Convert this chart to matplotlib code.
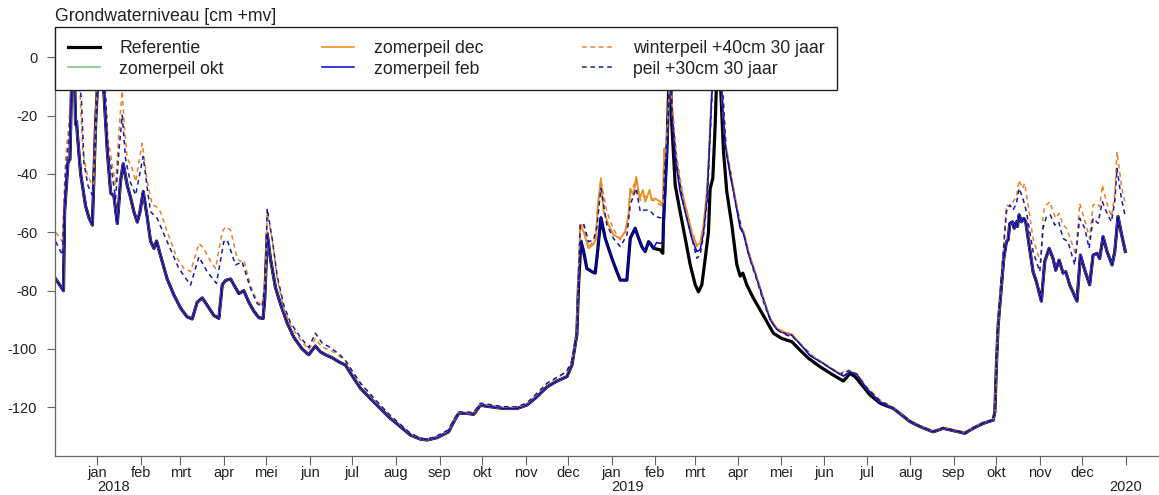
import matplotlib
matplotlib.use("Agg")
import matplotlib.pyplot as plt
import matplotlib.transforms as mtransforms
import pandas as pd

plt.rcParams["font.family"] = ["Liberation Sans", "DejaVu Sans"]
plt.rcParams["axes.unicode_minus"] = False

# days counted from 1 jan 2018, values in cm +mv
start = pd.Timestamp("2018-01-01")

ref_day = [-29.5, -24, -23.2, -20.8, -19.4, -18.4, -16.5, -15.4, -14.7, -14.2, -11.8, -8.3, -5.9, -3.5, -1.2, 0, 1.5, 3,
           4.7, 7.1, 9.5, 11.8, 14.2, 16.5, 18.4, 21.3, 23.6, 26, 28.4, 30.3, 32.6, 35.5, 37.8, 40.2, 42.1, 44.9, 49.6,
           54.4, 59.1, 63.8, 67.4, 70.9, 74.5, 78, 82.7, 86.3, 88.7, 91, 94.6, 98.1, 100.5, 104, 107.6, 111.1, 114.7,
           117.7, 118.9, 120.6, 122.9, 126.5, 130, 134.7, 139.5, 145.4, 150.1, 154.8, 158.4, 162, 166.7, 172.1, 176.1,
           182, 186.8, 193.9, 201, 208, 215.1, 222.2, 229.3, 234.1, 241.2, 249.4, 253, 256.5, 262.4, 267.2, 271.9, 279,
           288.4, 297.9, 305, 312.1, 319.2, 326.3, 333.3, 336.9, 340.4, 341.6, 343.3, 345.2, 347.5, 351.1, 353.4, 354.6,
           357.5, 360.5, 365.3, 368.8, 371.2, 375.9, 378.3, 381.8, 384.2, 386.6, 388.9, 391.3, 392.5, 394.8, 399.6,
           401.4, 401.9, 404.3, 405.5, 406.6, 407.8, 410.2, 413.7, 417.3, 420.8, 424.4, 426.7, 429.1, 431.5, 433.8, 435,
           436.9, 438.6, 439.3, 440.5, 442.6, 444.5, 446.8, 450.4, 453.9, 456.3, 458.2, 461, 465.7, 470.5, 475.2, 479.9,
           485.8, 493, 498.8, 504.8, 513, 522.5, 529.6, 534.3, 537.9, 543.8, 548.5, 555.6, 565, 570.9, 576.8, 583.9,
           593.3, 600.4, 607.5, 615.8, 621.7, 628.8, 635.9, 637.1, 638.2, 639.4, 640.6, 641.8, 643.4, 645.3, 646.5,
           647.7, 649.6, 650.8, 652.4, 653.1, 654.3, 656, 657.6, 659, 660.7, 664.2, 666.6, 670.1, 672.5, 675.6, 678.4,
           680.3, 682.7, 685.5, 687.4, 690.2, 695.4, 697.8, 700.9, 704.4, 706.8, 709.6, 711.5, 713.9, 716.7, 720.3,
           722.2, 724.5, 726.9, 729.7]
ref_cm = [-76, -80, -53, -36, -35, -12, 2, -23, -22, -26, -40, -51, -55, -57.5, -23, -11, 4, 2,
          -12, -32, -46.5, -47.5, -57, -42.5, -36.5, -44, -48, -53, -56.5, -53, -46, -55, -63, -65.5, -63, -68, -76,
          -81.5, -86, -89, -89.7, -84, -82.5, -85, -88.5, -89.5, -78, -76.5, -76, -79, -81, -80, -84, -87, -89.3,
          -89.5, -82.6, -60.4, -69, -79, -84.5, -91, -96, -100, -102, -99, -101, -102, -103, -104.6, -105.5,
          -110, -113.5, -117, -120.4, -123.8, -126.6, -129.5, -130.9, -131.2, -130.4, -128.4, -125, -122.1, -122.1,
          -122.4, -119.3, -119.8, -120.4, -120.4, -119.2, -116.4, -113, -111, -109.5, -105.5, -95, -78, -63, -66.6,
          -72.4, -73.5, -74, -69, -55, -62, -69, -73.5, -76.4, -76.4, -62, -58.6, -62, -65, -66.6, -63.2, -63.8,
          -65.5, -66, -67.2, -56.4, -32.4, -12, 3, -23, -43.8, -53, -62, -71, -78, -80.4, -78, -69, -60, -45, -41.5,
          -23, -12, 3, -12, -32.4, -46, -57.5, -71, -75, -74, -78, -82.6, -86.6, -90.6, -94.6, -96.4, -97.5, -100.4,
          -103.2, -106.1, -109, -111, -108.4, -109.5, -113, -115.8, -118.6, -120.4, -122.6, -124.9, -126.6, -128.4,
          -127.2, -128, -128.9, -127.2, -125.5, -124.4, -121.5, -105.5, -92, -85, -78, -69, -63.2, -62.6, -57, -56.4,
          -58.6, -56.4, -58, -54, -56.4, -55.2, -56.4, -62, -73.5, -77, -83.6, -70, -65.5, -69, -73, -69.5, -74,
          -73.5, -78, -83.6, -67.8, -73, -78, -67.8, -67.2, -69, -61.5, -66.6, -71.2, -66.6, -54.6, -60.4, -66.6]

# zomerpeil dec: only differs from the reference between these days
dec_day = [340.4, 341.6, 342.8, 345.2, 348.7, 352.2, 353.9, 355.3, 357.5, 359.4, 362.9, 366.5, 371.2, 374.7, 377.1,
           378.3, 380.6, 382.5, 384.9, 387.3, 388.9, 392, 393.6, 396, 399.6, 401.4, 402.4, 403.8, 405.5, 406.6, 407.8,
           410.2, 413.7, 418.5, 422, 425.6, 427.9, 430.3, 432.7, 433.8, 435, 436.2, 439, 443.3, 445.7, 449.2, 451.6,
           456.3, 458.7, 462.2, 466.9, 472.8, 477.6, 482.3, 487, 493, 498.8, 505.9, 515.4, 522.5, 529.6, 534.3, 539,
           546.1, 555.6, 565]
dec_cm = [-95, -75, -57.5, -59.8, -65.5, -64, -62.5, -50.6, -41.5, -52.9, -57.5, -60.9, -62.1, -59.8, -54,
          -45, -47.2, -41, -48.4, -45.5, -49.5, -45.5, -49, -48.4, -49.5, -50.6, -31.2, -34.6, -17.5, 3, -16.4,
          -32.4, -43.8, -52.9, -60.4, -64.4, -63.8, -57.5, -46, -37, -23, -12, 3, -12, -29, -39.2, -45,
          -57.5, -59.8, -66.6, -73.5, -82.6, -89.5, -92.9, -94.1, -95, -98.1, -102.1, -104.9, -107.2, -109.2, -107.8,
          -108.5, -113.5, -118.1, -120.4]

# zomerpeil okt cannot be told apart from zomerpeil dec in the picture
okt_day = dec_day
okt_cm = dec_cm

# zomerpeil feb: differs from the reference between these days
feb_day = [394.8, 397, 399.6, 401.4, 402.4, 404.3, 405.5, 406.6, 407.8, 410.2, 413.7, 418.5, 422, 425.6, 427.9,
           430.3, 432.7, 435, 436.2, 439, 443.3, 445.7, 449.2, 451.6, 456.3, 458.7, 462.2, 466.9, 472.8, 477.6, 482.3,
           487, 493, 498.8, 505.9, 515.4, 522.5, 529.6, 534.3, 539, 546.1, 555.6, 565]
feb_cm = [-65.5, -63.5, -63.8, -63.3, -56, -34.6, -17.5, 3, -17.5, -34.6, -46.1, -55.2, -62.1, -66.6, -66,
          -60, -48.4, -25.8, -12, 3, -12, -30, -40.4, -46, -58.6, -60.5, -67.5, -74, -83, -90, -93.3,
          -94.5, -95.3, -98.3, -102.3, -105, -107.3, -109.3, -107.9, -108.6, -113.6, -118.2, -120.4]

w40_day = [-29.5, -24.8, -22.5, -20.1, -18.9, -16.5, -12.3, -10.2, -7.1, -4.7, -2.8, -1.2, -0.5, 2, 5.9, 7.6, 9.5,
           13, 15.4, 17.7, 19.4, 21.3, 24.8, 27.2, 29.5, 31.9, 35.5, 39, 42.1, 44.9, 49.6, 56.7, 61.5, 66.2, 72.1,
           75.6, 79.2, 83.9, 88.7, 91, 94.6, 99.3, 101.7, 104, 108.7, 113.5, 117, 119.4, 120.6, 124.1, 127.7, 132.4,
           137.1, 144.2, 150.1, 154.8, 159.6, 165.5, 172.1, 176, 182, 187, 194, 201, 208, 215, 222, 229, 234, 241, 249,
           253, 256.5, 262, 267, 272, 279, 288, 298, 305, 312, 319, 326, 333, 337, 340.4, 342.8, 345.2, 348.7, 352.3,
           354.6, 357.5, 361.7, 366.4, 371.2, 375.9, 378.3, 382.5, 385.4, 387.7, 392, 396, 401.4, 402.6, 404.3, 405.5,
           406.6, 407.8, 411.4, 416.1, 420.8, 425.6, 427.9, 430.3, 433.1, 435, 436.4, 439, 444, 446.4, 449.2, 452.7,
           457.5, 459.1, 463.4, 468.1, 474, 478.7, 483.5, 488.2, 494.1, 501.2, 508.3, 517.8, 527.2, 533.1, 539, 546.1,
           555.6, 565, 576.8, 583.9, 593.3, 600.4, 607.5, 615.8, 621.7, 628.8, 635.9, 637.1, 638.2, 639.4, 640.6,
           641.8, 643.4, 645.3, 647.7, 650, 652.4, 654.3, 656.7, 658.3, 660.7, 664.2, 667.8, 669.7, 671.3, 672.5,
           676.1, 678.4, 680.3, 682.7, 685.5, 687.9, 691.4, 694.5, 697.3, 700.9, 704.4, 706.8, 709.6, 711.5, 713.4,
           716.2, 719.8, 722.2, 723.8, 726.9, 729.7]
w40_cm = [-60, -63.2, -34.6, -23, -11.5, 3, -12, -32.4, -40.4, -42.6, -43.8, -26.5, -12, 3, -12, -28, -33.5,
          -43.8, -25, -11.5, -25, -34.6, -38.1, -42.6, -36, -29.5, -42.6, -50.6, -51.2, -53, -59.8, -68.9, -72.4,
          -73.5, -63.8, -65.5, -68.9, -72.4, -59.8, -58.1, -59.2, -68.9, -70, -69.5, -78.1, -83.8, -84.9, -75, -53.5,
          -62.1, -75.8, -86.1, -91.8, -96.9, -100.3, -96.4, -99.5, -100.3, -102.6, -104, -108.5, -112, -115.8, -119.5,
          -123, -126, -129, -130.6, -131, -130, -128, -124.5, -121.8, -121.8, -122, -118.8, -119.3, -120, -120,
          -118.7, -115.5, -112, -110, -108, -104, -93, -57, -58, -65, -63, -58, -42.5, -53, -59, -62.6, -58.6, -46.6,
          -42, -49, -47.5, -48, -49.5, -51.2, -34.6, -26.6, -16, 3, -15, -34.6, -48.4, -57.5, -64.9, -64.4, -58.6,
          -46, -25.5, -12, 3, -12, -31.2, -38, -48.4, -58.6, -60.4, -68.9, -75.8, -85, -90.6, -93.5, -94.6, -95.8,
          -99.2, -102.6, -105.5, -108.4, -107.2, -108.4, -113, -117.5, -120, -124.5, -126.3, -128.1, -126.9, -127.7,
          -128.6, -126.9, -125.2, -124.1, -121.2, -105.5, -90, -82, -74, -64, -50.6, -51.2, -49.5, -47.8, -42.1, -45,
          -43.2, -50.6, -62.1, -67.8, -70.1, -54.6, -51.2, -49.5, -52.9, -55.2, -53.5, -57.5, -58.6, -63.2, -67.8,
          -50.1, -55.8, -62.1, -50.6, -50.1, -51.2, -43.8, -49.5, -54.6, -47.2, -32.4, -43.8, -50.6]

p30_day = [-29.5, -24.8, -22.5, -20.1, -18.4, -16.5, -11.3, -9.5, -6.6, -3.5, -1.2, 0, 2, 5.9, 7.6, 9.9, 13, 15.4,
           17.7, 20.1, 23.6, 27.2, 32.6, 35.5, 37.8, 42.5, 49.6, 57.9, 66.2, 72.1, 78, 84.6, 89.8, 92.2, 98.1, 102.8,
           108.7, 113.5, 117, 119.4, 120.6, 124.1, 127.7, 132.4, 137.1, 144.2, 150.1, 154.8, 159.6, 165.5, 172.1, 176,
           182, 187, 194, 201, 208, 215, 222, 229, 234, 241, 249, 253, 256.5, 262, 267, 272, 279, 288, 298, 305, 312,
           319, 326, 333, 337, 340.4, 342.8, 345.2, 348.7, 352.3, 354.6, 357.5, 361.7, 366.4, 371.2, 375.9, 378.3,
           382.5, 385.4, 387.7, 392, 396, 401.4, 402.6, 404.3, 405.5, 406.6, 407.8, 411.4, 416.1, 420.8, 425.6, 427.9,
           430.3, 433.1, 435, 436.4, 439, 444, 446.4, 449.2, 452.7, 457.5, 459.1, 463.4, 468.1, 474, 478.7, 483.5,
           488.2, 494.1, 501.2, 508.3, 517.8, 527.2, 533.1, 539, 546.1, 555.6, 565, 576.8, 583.9, 593.3, 600.4, 607.5,
           615.8, 621.7, 628.8, 635.9, 637.1, 638.2, 639.4, 640.6, 641.8, 643.4, 645.3, 647.7, 650, 652.4, 654.3, 657,
           659.5, 664.2, 669, 671.3, 673.7, 676.5, 679.6, 682.4, 685.5, 689, 693.8, 697.3, 700.9, 704, 706.8, 710.3,
           713.4, 716.2, 719.8, 722.2, 723.8, 726.9, 729.7]
p30_cm = [-63.2, -67.8, -40, -28, -11.5, 2, -14, -36, -44, -47.2, -28, -11.5, 2, -14, -32, -38, -48.4, -32,
          -19.8, -35, -43, -47.2, -34, -45, -52.9, -55.2, -63.2, -72.4, -78.1, -68.4, -73.5, -77.5, -63.2, -62.6,
          -71.2, -70.1, -79.2, -84.4, -85.5, -76, -51.8, -62.1, -75, -85, -91, -96, -99.5, -94.6, -98, -99.5, -102,
          -103.8, -108.3, -111.8, -115.6, -119.3, -122.8, -125.8, -128.8, -130.5, -131, -129.8, -127.8, -124.3,
          -121.6, -121.6, -121.8, -118.6, -119.1, -119.8, -119.8, -118.5, -115.2, -111.8, -109.8, -107.8, -104, -94,
          -57.5, -57, -63.2, -62.6, -58, -44.9, -57.5, -62.1, -64.9, -61, -50.6, -44.9, -52.9, -52.4, -52.4, -54.6,
          -55.2, -39, -29, -17.5, 3, -18.6, -37, -50.6, -59.8, -68.9, -67.8, -61, -48.4, -26.6, -12, 3, -12, -32.4,
          -39.2, -49.5, -59.2, -61, -69.5, -76.4, -85.5, -91, -93.8, -95, -96.1, -99.5, -103, -105.8, -108.7, -107.5,
          -108.7, -113.3, -117.8, -120.2, -124.6, -126.4, -128.2, -127, -127.8, -128.7, -127, -125.3, -124.2, -121.3,
          -105.5, -91, -83, -75, -65, -52.9, -50.6, -52.4, -50.1, -44.9, -48.4, -52.9, -66.6, -73.5, -58.6, -54.6,
          -54.1, -57.5, -56.4, -62.1, -63.2, -71.2, -55.2, -58.6, -65.5, -55.2, -56.9, -49.5, -52.9, -56.4, -49.5,
          -38.1, -48.4, -54.6]

labels = ["Referentie", "zomerpeil okt", "zomerpeil dec", "zomerpeil feb",
          "winterpeil +40cm 30 jaar", "peil +30cm 30 jaar"]
months = ["jan", "feb", "mrt", "apr", "mei", "jun", "jul", "aug", "sep", "okt", "nov", "dec"]
years = ["2018", "2019", "2020"]
yticks = [0, -20, -40, -60, -80, -100, -120]


def to_dates(days):
    return start + pd.to_timedelta(days, unit="D")


def splice(base_day, base_cm, seg_day, seg_cm):
    # the scenario follows the reference outside its own stretch
    pts = [(d, v) for d, v in zip(base_day, base_cm) if d < seg_day[0]]
    pts += list(zip(seg_day, seg_cm))
    pts += [(d, v) for d, v in zip(base_day, base_cm) if d > seg_day[-1]]
    return [p[0] for p in pts], [p[1] for p in pts]


fig = plt.figure(figsize=(11.59, 4.95), dpi=100)
ax = fig.add_axes([55.3 / 1159, 1 - 456 / 495, 1 - 55.3 / 1159, (456 - 27) / 495])

series = [
    (ref_day, ref_cm, dict(color="black", lw=2.3)),
    (*splice(ref_day, ref_cm, okt_day, okt_cm), dict(color="#7ccf7c", lw=1.2)),
    (*splice(ref_day, ref_cm, dec_day, dec_cm), dict(color="#ff8c1a", lw=1.2)),
    (*splice(ref_day, ref_cm, feb_day, feb_cm), dict(color="#0000dd", lw=1.1)),
    (w40_day, w40_cm, dict(color="#e8802e", lw=1.1, dashes=(3, 2.5))),
    (p30_day, p30_cm, dict(color="#1a1a9c", lw=1.1, dashes=(3, 2.5))),
]
handles = []
for (d, v, style), lab in zip(series, labels):
    h, = ax.plot(to_dates(d), v, label=lab, **style)
    handles.append(h)

ax.set_xlim(to_dates(-29.8), to_dates(753.6))
ax.set_ylim(-136.7, 10.4)

for side in ["top", "right"]:
    ax.spines[side].set_visible(False)
for side in ["left", "bottom"]:
    ax.spines[side].set_color("#666666")
    ax.spines[side].set_linewidth(0.9)

ax.set_yticks(yticks)
ax.set_yticklabels([str(t) for t in yticks])
ax.tick_params(axis="y", length=6, pad=7, color="#666666", labelsize=10.5, labelcolor="#222222")

month_ticks = pd.date_range("2018-01-01", "2020-01-01", freq="MS")
ax.set_xticks(month_ticks)
ax.set_xticklabels([months[t.month - 1] if t.year < 2020 else "" for t in month_ticks])
ax.tick_params(axis="x", length=6.5, pad=0.5, color="#666666", labelsize=10.5, labelcolor="#222222")

year_shift = [11.5, 11.5, 0]
for lab, shift in zip(years, year_shift):
    ax.annotate(lab, xy=(pd.Timestamp(lab + "-01-01"), 0), xycoords=("data", "axes fraction"),
                xytext=(shift, -25.2), textcoords="offset points", ha="center", va="baseline",
                fontsize=10.5, color="#222222", annotation_clip=False)

title_tr = mtransforms.offset_copy(ax.transAxes, fig=fig, y=1.5, units="points")
ax.text(0, 1, "Grondwaterniveau [cm +mv]", transform=title_tr, ha="left", va="bottom",
        fontsize=12.7, color="#222222")

leg = ax.legend(handles, labels, ncol=3, loc="upper left", bbox_to_anchor=(0, 1), borderaxespad=0,
                fontsize=12.7, frameon=True, fancybox=False, edgecolor="#222222", framealpha=1,
                handlelength=1.8, handletextpad=1.1, columnspacing=5.6, labelspacing=0.22, borderpad=0.72)
leg.get_frame().set_linewidth(1.0)
leg.set_zorder(10)
for t in leg.get_texts():
    t.set_color("#222222")

fig.savefig("out.png", dpi=100)
